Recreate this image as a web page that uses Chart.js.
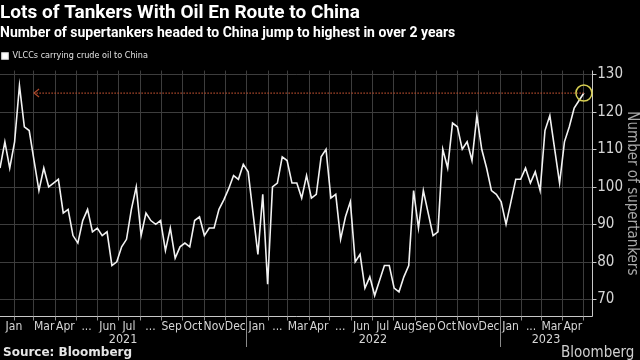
<!DOCTYPE html>
<html>
<head>
<meta charset="utf-8">
<script src="https://cdn.jsdelivr.net/npm/chart.js@4.4.0/dist/chart.umd.min.js"></script>
<style>
  html, body { margin: 0; padding: 0; background: #000; }
  #wrap { position: relative; width: 640px; height: 360px; overflow: hidden; }
  #src { position: absolute; left: 3px; top: 345px; font: bold 12px 'DejaVu Sans', sans-serif; color: #e6e6e6; }
  #logo { position: absolute; left: 561px; top: 343px; font: 15px 'Liberation Sans Narrow', 'DejaVu Sans Condensed', 'Roboto', sans-serif; color: #d0d0d0; }
</style>
</head>
<body>
<div id="wrap">
  <canvas id="myChart" width="640" height="360"></canvas>
  <div id="src">Source: Bloomberg</div>
  <div id="logo">Bloomberg</div>
</div>
<script>
const narrow = "'Liberation Sans Narrow', 'DejaVu Sans Condensed', 'Roboto', sans-serif";

// weekly count of VLCCs carrying crude oil to China, first week starts 2021-01-12
const firstWeek = [2021, 1, 12];
const vlccs = [
  105, 112, 105, 112, 127, 116, 115, 107, 99, 105,
  100, 101, 102, 93, 94, 87, 85, 91, 94, 88,
  89, 87, 88, 79, 80, 84, 86, 94, 100, 87,
  93, 91, 90, 91, 83, 89, 81, 84, 85, 84,
  91, 92, 87, 89, 89, 94, 96.5, 99.5, 103, 102,
  106, 104, 93, 82, 98, 74, 100, 101, 108, 107,
  101, 101, 97, 103, 97, 98, 108, 110, 97, 98,
  86, 92, 96, 80, 82, 73, 76, 71, 75, 79,
  79, 73, 72, 76, 79, 99, 89, 99, 93, 87,
  88, 110, 105, 117, 116, 110, 112, 107, 119, 110,
  105, 99, 98, 96, 90, 96, 102, 102, 105, 101,
  104, 99, 115, 119, 110, 101, 112, 116, 121, 123,
  125
];

// month tick labels, Jan 2021 .. Apr 2023
const monthLabels = ['Jan', '', 'Mar', 'Apr', '...', 'Jun', 'Jul', '...', 'Sep', 'Oct', 'Nov', 'Dec',
                     'Jan', '...', 'Mar', 'Apr', '...', 'Jun', 'Jul', 'Aug', 'Sep', 'Oct', 'Nov', 'Dec',
                     'Jan', '...', 'Mar', 'Apr'];
const yearLabels = ['2021', '2022', '2023'];
const yTicks = [70, 80, 90, 100, 110, 120, 130];

// annotation: level of latest week, drawn back to early 2021 peak
const arrowLevel = 125;
const arrowEnd = [2021, 3, 2];

const day = (y, m, d) => Date.UTC(y, m - 1, d) / 864e5;
const xMin = day(...firstWeek);
const xMax = day(2023, 5, 14);

let points = vlccs.map((v, i) => ({x: xMin + 7 * i, y: v}));

let monthStarts = [];
let monthPos = [];
for (let k = 0; k <= monthLabels.length; k++) {
    let s = day(2021 + Math.floor(k / 12), k % 12 + 1, 1);
    if (s > xMin && s < xMax) monthStarts.push(s);
    if (k < monthLabels.length) {
        let e = day(2021 + Math.floor((k + 1) / 12), (k + 1) % 12 + 1, 1);
        let a = Math.max(s, xMin), b = Math.min(e, xMax);
        monthPos.push(b - a < 25 ? (a === xMin ? b : a) : (a + b) / 2);
    }
}
let yearStarts = [day(2022, 1, 1), day(2023, 1, 1)];
let yearPos = yearLabels.map((t, i) => {
    let a = Math.max(day(2021 + i, 1, 1), xMin), b = Math.min(day(2022 + i, 1, 1), xMax);
    return (a + b) / 2;
});

const gridColor = '#3d3d3d';
const labelColor = '#d6d6d6';

// grid, axis lines and tick marks, taken from the x / y scales
const gridLines = {
    id: 'gridLines',
    beforeDatasetsDraw(chart) {
        const {ctx, chartArea: area, scales} = chart;
        const x = scales.x, y = scales.y;
        ctx.save();
        ctx.lineWidth = 1;
        ctx.strokeStyle = gridColor;
        ctx.beginPath();
        x.ticks.forEach(t => {
            let px = Math.round(x.getPixelForValue(t.value)) + 0.5;
            ctx.moveTo(px, area.top);
            ctx.lineTo(px, area.bottom);
        });
        y.ticks.forEach(t => {
            let py = Math.round(y.getPixelForValue(t.value)) + 0.5;
            ctx.moveTo(area.left, py);
            ctx.lineTo(area.right, py);
        });
        ctx.stroke();
        ctx.strokeStyle = '#c8c8c8';
        ctx.beginPath();
        let bx = Math.round(area.right) + 0.5, by = Math.round(area.bottom) + 0.5;
        ctx.moveTo(area.left, by);
        ctx.lineTo(bx, by);
        ctx.moveTo(bx, area.top);
        ctx.lineTo(bx, by);
        y.ticks.forEach(t => {
            let py = Math.round(y.getPixelForValue(t.value)) + 0.5;
            ctx.moveTo(bx, py);
            ctx.lineTo(bx + 4, py);
        });
        ctx.stroke();
        ctx.strokeStyle = '#8a8a8a';
        ctx.beginPath();
        x.ticks.forEach(t => {
            let px = Math.round(x.getPixelForValue(t.value)) + 0.5;
            ctx.moveTo(px, by);
            ctx.lineTo(px, by + 4);
        });
        ctx.stroke();
        ctx.restore();
    }
};

const extras = {
    id: 'extras',
    afterDatasetsDraw(chart) {
        const {ctx, scales} = chart;
        const x = scales.x, y = scales.y;
        const yy = y.getPixelForValue(arrowLevel);
        const x0 = x.getPixelForValue(day(...arrowEnd));
        const last = points[points.length - 1];
        const x1 = x.getPixelForValue(last.x);
        ctx.save();
        ctx.strokeStyle = '#b04a2c';
        ctx.lineWidth = 1.2;
        ctx.setLineDash([1.5, 1.5]);
        ctx.beginPath();
        ctx.moveTo(x1, yy);
        ctx.lineTo(x0, yy);
        ctx.stroke();
        ctx.setLineDash([]);
        ctx.beginPath();
        ctx.moveTo(x0 + 5, yy - 4);
        ctx.lineTo(x0, yy);
        ctx.lineTo(x0 + 5, yy + 4);
        ctx.stroke();

        ctx.strokeStyle = '#d8cf52';
        ctx.lineWidth = 1.5;
        ctx.beginPath();
        ctx.arc(x1, y.getPixelForValue(last.y), 8, 0, 2 * Math.PI);
        ctx.stroke();

        ctx.strokeStyle = '#8a8a8a';
        ctx.lineWidth = 1;
        yearStarts.forEach(v => {
            let px = Math.round(x.getPixelForValue(v)) + 0.5;
            ctx.beginPath();
            ctx.moveTo(px, chart.chartArea.bottom);
            ctx.lineTo(px, scales.x3.bottom);
            ctx.stroke();
        });
        ctx.restore();
    }
};

let ctx = document.getElementById('myChart').getContext('2d');

let chart_vlcc = new Chart(ctx, {
    type: 'line',
    data: {
        datasets: [{
            label: 'VLCCs carrying crude oil to China',
            data: points,
            borderColor: '#f2f2f2',
            backgroundColor: '#ffffff',
            borderWidth: 1.6,
            pointRadius: 0,
            tension: 0
        }]
    },
    plugins: [gridLines, extras],
    options: {
        responsive: false,
        animation: false,
        layout: {
            padding: {left: 0, right: 0, top: 0, bottom: 13}
        },
        plugins: {
            title: {
                display: true,
                text: 'Lots of Tankers With Oil En Route to China',
                align: 'start',
                color: '#ffffff',
                font: {family: 'Roboto', size: 19, weight: 'bold', lineHeight: 1.25},
                padding: {top: 1, bottom: 0}
            },
            subtitle: {
                display: true,
                text: 'Number of supertankers headed to China jump to highest in over 2 years',
                align: 'start',
                color: '#ffffff',
                font: {family: 'Roboto', size: 14, weight: 'bold', lineHeight: 1.2},
                padding: {top: 0, bottom: 8}
            },
            legend: {
                align: 'start',
                labels: {
                    color: '#e0e0e0',
                    font: {family: narrow, size: 9},
                    boxWidth: 6,
                    boxHeight: 6,
                    padding: 2
                }
            },
            tooltip: {enabled: false}
        },
        scales: {
            x: {
                type: 'linear',
                min: xMin,
                max: xMax,
                weight: 0,
                afterBuildTicks: axis => { axis.ticks = monthStarts.map(v => ({value: v})); },
                ticks: {display: false},
                grid: {display: false, tickLength: 4},
                border: {display: false}
            },
            x2: {
                type: 'linear',
                position: 'bottom',
                min: xMin,
                max: xMax,
                weight: 1,
                afterBuildTicks: axis => { axis.ticks = monthPos.map(v => ({value: v})); },
                ticks: {
                    autoSkip: false,
                    maxRotation: 0,
                    color: labelColor,
                    font: {family: narrow, size: 12, lineHeight: '12.4px'},
                    padding: 0,
                    callback: (v, i) => monthLabels[i]
                },
                grid: {display: false, drawTicks: false},
                border: {display: false}
            },
            x3: {
                type: 'linear',
                position: 'bottom',
                min: xMin,
                max: xMax,
                weight: 2,
                afterBuildTicks: axis => { axis.ticks = yearPos.map(v => ({value: v})); },
                ticks: {
                    autoSkip: false,
                    maxRotation: 0,
                    color: labelColor,
                    font: {family: narrow, size: 12.5, lineHeight: '12.4px'},
                    padding: 1,
                    callback: (v, i) => yearLabels[i]
                },
                grid: {display: false, drawTicks: false},
                border: {display: false}
            },
            y: {
                position: 'right',
                min: 65.5,
                max: 131,
                afterBuildTicks: axis => { axis.ticks = yTicks.map(v => ({value: v})); },
                ticks: {color: labelColor, font: {family: narrow, size: 15}, padding: 1},
                grid: {display: false, tickLength: 4},
                border: {display: false},
                title: {
                    display: true,
                    text: 'Number of supertankers',
                    color: '#a8a8a8',
                    font: {family: narrow, size: 15, lineHeight: 1},
                    padding: {top: 1, bottom: 0}
                }
            }
        }
    }
});
</script>
</body>
</html>
